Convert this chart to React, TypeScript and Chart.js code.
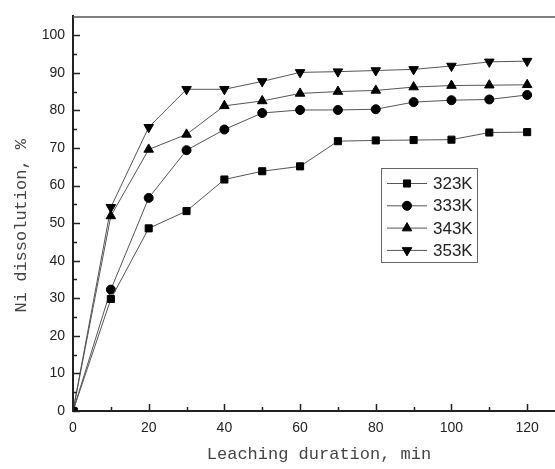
import React, { useEffect, useRef } from "react";
import { Chart, registerables } from "chart.js";
import { drawPoint } from "chart.js/helpers";

Chart.register(...registerables);

const times = [0, 10, 20, 30, 40, 50, 60, 70, 80, 90, 100, 110, 120];
const k323 = [0, 29.8, 48.6, 53.2, 61.6, 63.8, 65.1, 71.8, 72.0, 72.1, 72.2, 74.1, 74.2];
const k333 = [0, 32.3, 56.7, 69.4, 74.9, 79.3, 80.1, 80.1, 80.3, 82.2, 82.7, 82.9, 84.1];
const k343 = [0, 51.9, 69.6, 73.6, 81.2, 82.5, 84.5, 85.0, 85.3, 86.2, 86.6, 86.7, 86.8];
const k353 = [0, 54.2, 75.5, 85.6, 85.6, 87.7, 90.1, 90.3, 90.6, 90.9, 91.8, 92.9, 93.1];
const seriesLabels = ["323K", "333K", "343K", "353K"];
const xTitle = "Leaching duration, min";
const yTitle = "Ni dissolution, %";

const xMajor = [0, 20, 40, 60, 80, 100, 120];
const xMinor = [10, 30, 50, 70, 90, 110];
const yMajor = [0, 10, 20, 30, 40, 50, 60, 70, 80, 90, 100];
const yMinor = [5, 15, 25, 35, 45, 55, 65, 75, 85, 95];

const monoFont = "'Liberation Mono', 'Courier New', monospace";
const sansFont = "'Liberation Sans', Arial, sans-serif";

const toPts = (ys: number[]) => ys.map((y, i) => ({ x: times[i], y }));

const ticksPlugin = {
  id: "inwardTicks",
  afterDatasetsDraw(chart: any) {
    const ctx = chart.ctx;
    const xs = chart.scales.x;
    const ys = chart.scales.y;
    const { left, right, top, bottom } = chart.chartArea;
    ctx.save();
    ctx.strokeStyle = "#222";
    ctx.lineWidth = 1.5;
    const drawX = (vals: number[], len: number) => {
      vals.forEach((v) => {
        const px = Math.round(xs.getPixelForValue(v)) + 0.5;
        ctx.beginPath();
        ctx.moveTo(px, bottom);
        ctx.lineTo(px, bottom - len);
        ctx.stroke();
      });
    };
    const drawY = (vals: number[], len: number) => {
      vals.forEach((v) => {
        const py = Math.round(ys.getPixelForValue(v)) + 0.5;
        ctx.beginPath();
        ctx.moveTo(left, py);
        ctx.lineTo(left + len, py);
        ctx.stroke();
      });
    };
    drawX(xMajor, 7);
    drawX(xMinor, 4);
    drawY(yMajor, 7);
    drawY(yMinor, 4);
    // top frame
    ctx.strokeStyle = "#555";
    ctx.lineWidth = 1.5;
    ctx.beginPath();
    ctx.moveTo(left, top + 0.5);
    ctx.lineTo(right, top + 0.5);
    ctx.stroke();
    // y axis title
    ctx.translate(21, (top + bottom) / 2 + 12);
    ctx.rotate(-Math.PI / 2);
    ctx.fillStyle = "#444";
    ctx.font = "17px " + monoFont;
    ctx.textAlign = "center";
    ctx.textBaseline = "middle";
    ctx.fillText(yTitle, 0, 0);
    ctx.restore();
  },
};

const legendPlugin = {
  id: "boxLegend",
  afterDatasetsDraw(chart: any) {
    const ctx = chart.ctx;
    const bx = 381;
    const by = 168;
    const bw = 96;
    const bh = 94;
    ctx.save();
    ctx.fillStyle = "#fff";
    ctx.fillRect(bx, by, bw, bh);
    ctx.strokeStyle = "#666";
    ctx.lineWidth = 1;
    ctx.strokeRect(bx + 0.5, by + 0.5, bw, bh);
    chart.data.datasets.forEach((ds: any, i: number) => {
      const y = by + 15.5 + i * 22.3;
      ctx.strokeStyle = "#555";
      ctx.lineWidth = 1;
      ctx.beginPath();
      ctx.moveTo(bx + 6, y);
      ctx.lineTo(bx + 46, y);
      ctx.stroke();
      ctx.fillStyle = "#000";
      ctx.strokeStyle = "#000";
      drawPoint(
        ctx,
        {
          pointStyle: ds.pointStyle,
          rotation: ds.pointRotation || 0,
          radius: ds.pointRadius,
          borderWidth: 1,
        },
        bx + 26,
        y
      );
      ctx.fillStyle = "#222";
      ctx.font = "17px " + sansFont;
      ctx.textAlign = "left";
      ctx.textBaseline = "middle";
      ctx.fillText(ds.label, bx + 52, y + 1);
    });
    ctx.restore();
  },
};

export default function App() {
  const ref = useRef<HTMLCanvasElement | null>(null);
  useEffect(() => {
    const canvas = ref.current;
    if (!canvas) return;
    const mk = (label: string, data: number[], style: string, radius: number, rot = 0) => ({
      label,
      data: toPts(data),
      borderColor: "#555",
      borderWidth: 1,
      pointStyle: style,
      pointRadius: radius,
      pointRotation: rot,
      pointBackgroundColor: "#000",
      pointBorderColor: "#000",
      pointBorderWidth: 1,
      fill: false,
      tension: 0,
    });
    const chart = new Chart(canvas, {
      type: "line",
      data: {
        datasets: [
          mk(seriesLabels[0], k323, "rect", 5),
          mk(seriesLabels[1], k333, "circle", 4.5),
          mk(seriesLabels[2], k343, "triangle", 5.5),
          mk(seriesLabels[3], k353, "triangle", 5.5, 180),
        ] as any,
      },
      options: {
        animation: false,
        responsive: false,
        devicePixelRatio: 1,
        layout: { padding: { top: 8, right: 10, left: 0, bottom: 0 } },
        plugins: { legend: { display: false }, tooltip: { enabled: false } },
        scales: {
          x: {
            type: "linear",
            min: 0,
            max: 130,
            grid: { display: false, drawTicks: false },
            border: { display: true, color: "#222", width: 2 },
            ticks: {
              stepSize: 20,
              includeBounds: false,
              padding: 9,
              color: "#222",
              font: { family: sansFont, size: 14 },
              maxRotation: 0,
            },
            title: {
              display: true,
              text: xTitle,
              color: "#444",
              font: { family: monoFont, size: 17 },
              padding: { top: 4, bottom: 4 },
            },
            afterFit: (s: any) => {
              s.height = 58;
            },
          },
          y: {
            type: "linear",
            min: 0,
            max: 105,
            grid: { display: false, drawTicks: false },
            border: { display: true, color: "#222", width: 2 },
            ticks: {
              stepSize: 10,
              includeBounds: false,
              padding: 8,
              color: "#222",
              font: { family: sansFont, size: 14 },
            },
            title: { display: false },
            afterFit: (s: any) => {
              s.width = 73;
            },
          },
        },
      },
      plugins: [ticksPlugin, legendPlugin],
    });
    return () => chart.destroy();
  }, []);
  return (
    <div
      style={{
        position: "fixed",
        left: 0,
        top: 0,
        width: 555,
        height: 469,
        overflow: "hidden",
        background: "#fff",
      }}
    >
      <canvas ref={ref} width={575} height={469} style={{ display: "block" }} />
    </div>
  );
}
